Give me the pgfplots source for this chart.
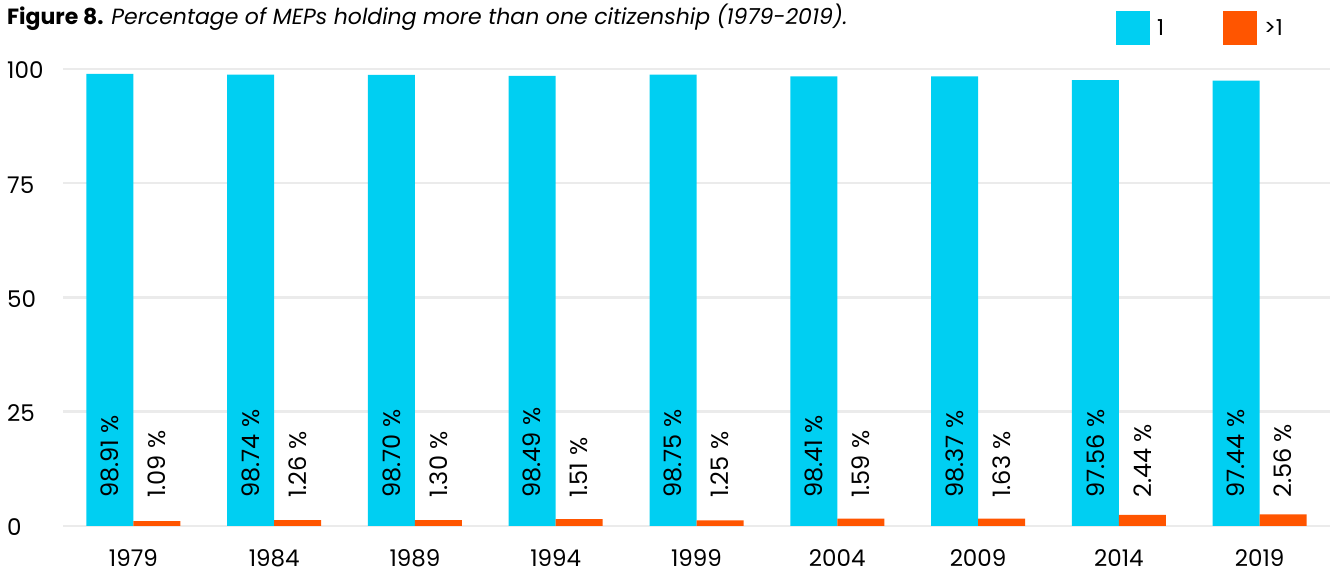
\documentclass[border=0pt]{standalone}
\usepackage{fontspec}
\setmainfont{Poppins}
\usepackage{pgfplots}
\pgfplotsset{compat=1.18}
\usepackage{pgfplotstable}

\definecolor{single}{HTML}{00CFF2}
\definecolor{multi}{HTML}{FF5500}
\definecolor{gridgray}{HTML}{EBEBEB}

% Share of MEPs with one citizenship and with more than one, per election year
\pgfplotstableread{
x year one multi
0 1979 98.91 1.09
1 1984 98.74 1.26
2 1989 98.70 1.30
3 1994 98.49 1.51
4 1999 98.75 1.25
5 2004 98.41 1.59
6 2009 98.37 1.63
7 2014 97.56 2.44
8 2019 97.44 2.56
}\citizenship

\begin{document}
\begin{tikzpicture}[x=1pt,y=1pt]
\useasboundingbox (0,0) rectangle (1330,572);
\node[anchor=base west, inner sep=0pt, font=\fontsize{22}{26}\selectfont]
  at (7,547) {\textbf{Figure 8.} \textit{Percentage of MEPs holding more than one citizenship (1979-2019).}};
\begin{axis}[
  at={(63pt,46pt)}, anchor=south west,
  scale only axis, width=1267pt, height=457pt,
  xmin=-0.5, xmax=8.5, ymin=0, ymax=100,
  clip=false,
  axis line style={draw=none},
  major tick length=0pt,
  ymajorgrids,
  grid style={gridgray, line width=2.5pt},
  ytick={0,25,50,75,100},
  xtick={0,...,8},
  xticklabels={1979,1984,1989,1994,1999,2004,2009,2014,2019},
  /pgf/number format/assume math mode=true,
  yticklabel style={anchor=west, xshift=-56pt, yshift=-1.5pt, inner sep=0pt,
    font=\fontsize{23}{27}\selectfont},
  xticklabel style={anchor=center, yshift=-32.5pt, inner sep=0pt,
    font=\fontsize{23}{27}\selectfont},
  legend style={at={(rel axis cs:0.8311,1.1269)}, anchor=north west,
    draw=none, fill=none, inner sep=0pt, outer sep=0pt,
    nodes={inner sep=0pt},
    font=\fontsize{22}{26}\selectfont,
    /tikz/every odd column/.append style={column sep=7pt},
    /tikz/every even column/.append style={column sep=59pt}},
  legend columns=2,
  visualization depends on={y \as \rawy},
  nodes near coords={\rotatebox{90}{\pgfmathprintnumber[fixed,fixed zerofill,precision=2]{\pgfplotspointmeta}~\%}},
  every node near coord/.append style={shift={(axis direction cs:0,-\rawy)},
    yshift=28pt, anchor=south, inner sep=0pt, text=black,
    font=\fontsize{24}{28}\selectfont},
]
\addplot[ybar, bar width=47pt, bar shift=-23.5pt, fill=single, draw=none,
  point meta=y,
  every node near coord/.append style={xshift=-23.5pt},
  legend image code/.code={\fill[single] (0pt,-17pt) rectangle (34pt,17pt);}]
  table[x=x, y=one]{\citizenship};
\addlegendentry{1}
\addplot[ybar, bar width=47pt, bar shift=23.5pt, fill=multi, draw=none,
  point meta=y,
  every node near coord/.append style={xshift=23.5pt},
  legend image code/.code={\fill[multi] (0pt,-17pt) rectangle (34pt,17pt);}]
  table[x=x, y=multi]{\citizenship};
\addlegendentry{>1}
\end{axis}
\end{tikzpicture}
\end{document}
